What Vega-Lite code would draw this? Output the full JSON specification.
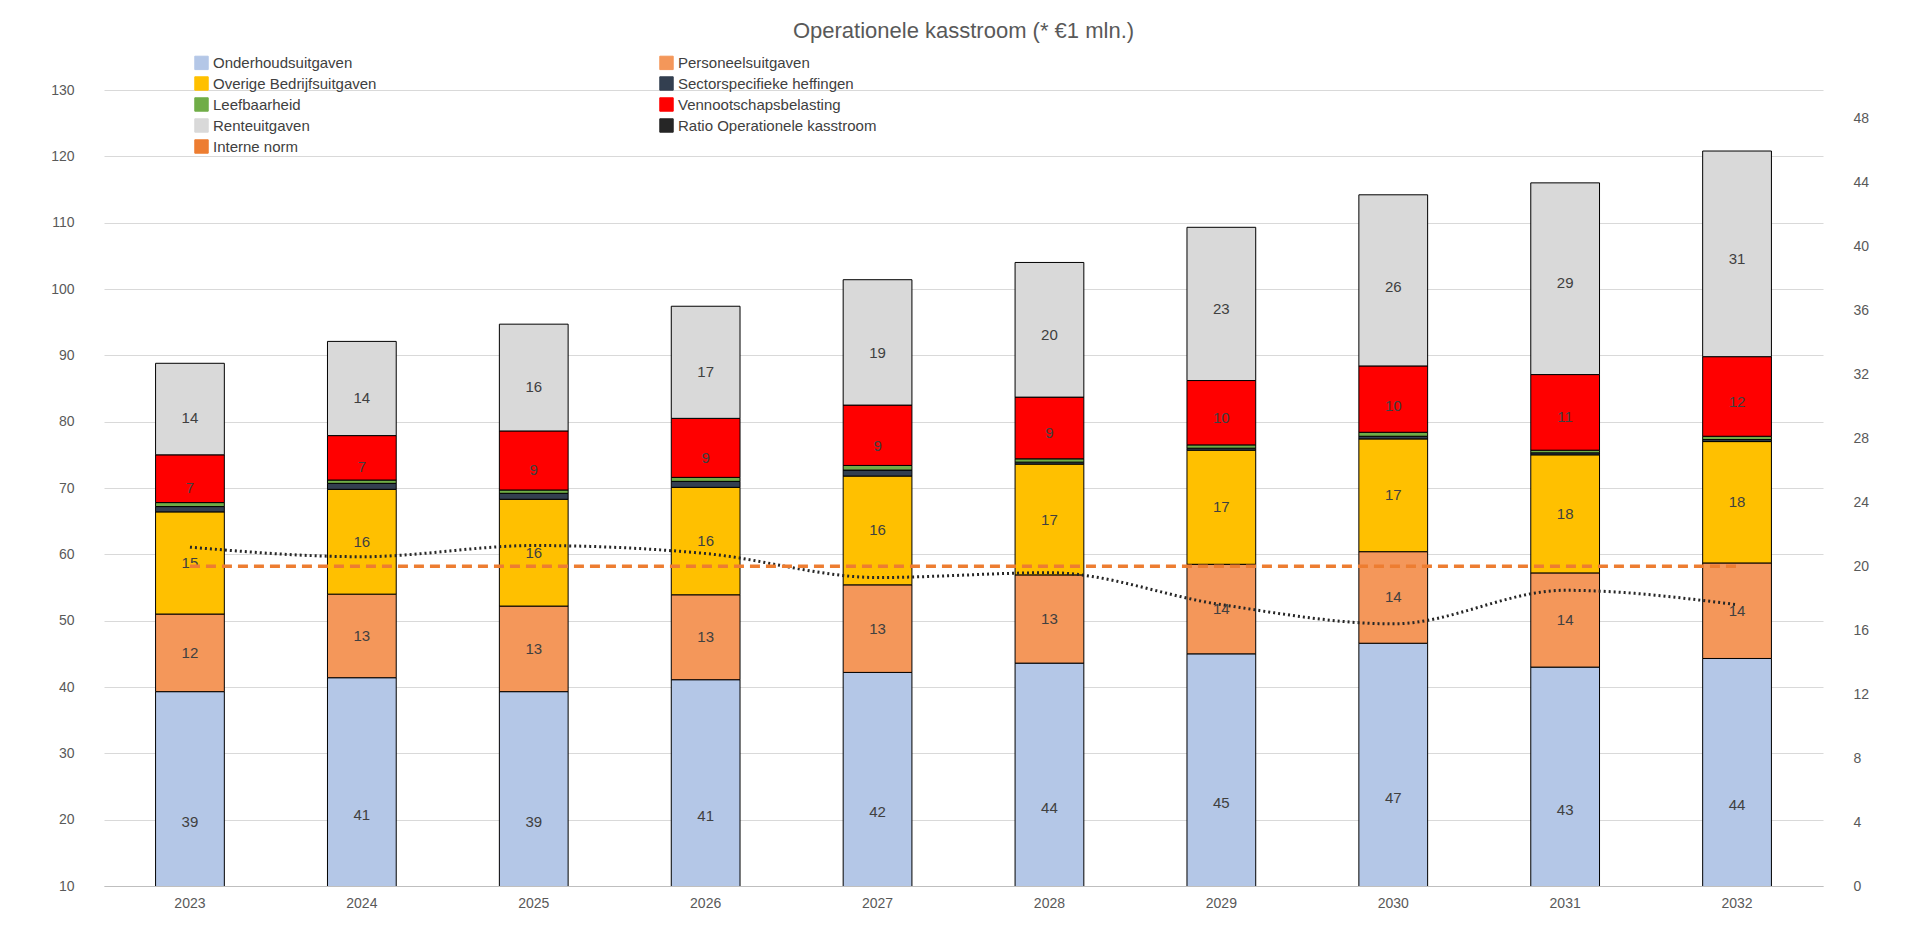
{
  "$schema": "https://vega.github.io/schema/vega-lite/v6.json",
  "width": 1919,
  "height": 950,
  "autosize": {"type": "fit", "contains": "padding"},
  "padding": {"left": 50, "right": 50, "top": 20, "bottom": 40},
  "title": {"text": "Operationele kasstroom (* €1 mln.)", "fontSize": 22, "font": "Liberation Sans", "fontWeight": "normal", "color": "#595959", "offset": 40},
  "config": {"view": {"stroke": null}, "font": "Liberation Sans", "axis": {"labelFontSize": 14, "labelColor": "#595959"}},
  "datasets": {
    "bars": [
      {"jaar": "2023", "post": "Onderhoudsuitgaven", "o": 1, "v": 39.3}, {"jaar": "2023", "post": "Personeelsuitgaven", "o": 2, "v": 11.7}, {"jaar": "2023", "post": "Overige Bedrijfsuitgaven", "o": 3, "v": 15.4}, {"jaar": "2023", "post": "Sectorspecifieke heffingen", "o": 4, "v": 0.8}, {"jaar": "2023", "post": " Leefbaarheid", "o": 5, "v": 0.6}, {"jaar": "2023", "post": "Vennootschapsbelasting", "o": 6, "v": 7.2}, {"jaar": "2023", "post": "Renteuitgaven", "o": 7, "v": 13.8},
      {"jaar": "2024", "post": "Onderhoudsuitgaven", "o": 1, "v": 41.4}, {"jaar": "2024", "post": "Personeelsuitgaven", "o": 2, "v": 12.6}, {"jaar": "2024", "post": "Overige Bedrijfsuitgaven", "o": 3, "v": 15.8}, {"jaar": "2024", "post": "Sectorspecifieke heffingen", "o": 4, "v": 0.9}, {"jaar": "2024", "post": " Leefbaarheid", "o": 5, "v": 0.5}, {"jaar": "2024", "post": "Vennootschapsbelasting", "o": 6, "v": 6.7}, {"jaar": "2024", "post": "Renteuitgaven", "o": 7, "v": 14.2},
      {"jaar": "2025", "post": "Onderhoudsuitgaven", "o": 1, "v": 39.3}, {"jaar": "2025", "post": "Personeelsuitgaven", "o": 2, "v": 12.9}, {"jaar": "2025", "post": "Overige Bedrijfsuitgaven", "o": 3, "v": 16.1}, {"jaar": "2025", "post": "Sectorspecifieke heffingen", "o": 4, "v": 0.9}, {"jaar": "2025", "post": " Leefbaarheid", "o": 5, "v": 0.5}, {"jaar": "2025", "post": "Vennootschapsbelasting", "o": 6, "v": 8.9}, {"jaar": "2025", "post": "Renteuitgaven", "o": 7, "v": 16.1},
      {"jaar": "2026", "post": "Onderhoudsuitgaven", "o": 1, "v": 41.1}, {"jaar": "2026", "post": "Personeelsuitgaven", "o": 2, "v": 12.8}, {"jaar": "2026", "post": "Overige Bedrijfsuitgaven", "o": 3, "v": 16.2}, {"jaar": "2026", "post": "Sectorspecifieke heffingen", "o": 4, "v": 0.9}, {"jaar": "2026", "post": " Leefbaarheid", "o": 5, "v": 0.6}, {"jaar": "2026", "post": "Vennootschapsbelasting", "o": 6, "v": 8.9}, {"jaar": "2026", "post": "Renteuitgaven", "o": 7, "v": 16.9},
      {"jaar": "2027", "post": "Onderhoudsuitgaven", "o": 1, "v": 42.2}, {"jaar": "2027", "post": "Personeelsuitgaven", "o": 2, "v": 13.2}, {"jaar": "2027", "post": "Overige Bedrijfsuitgaven", "o": 3, "v": 16.4}, {"jaar": "2027", "post": "Sectorspecifieke heffingen", "o": 4, "v": 0.9}, {"jaar": "2027", "post": " Leefbaarheid", "o": 5, "v": 0.7}, {"jaar": "2027", "post": "Vennootschapsbelasting", "o": 6, "v": 9.1}, {"jaar": "2027", "post": "Renteuitgaven", "o": 7, "v": 18.9},
      {"jaar": "2028", "post": "Onderhoudsuitgaven", "o": 1, "v": 43.6}, {"jaar": "2028", "post": "Personeelsuitgaven", "o": 2, "v": 13.3}, {"jaar": "2028", "post": "Overige Bedrijfsuitgaven", "o": 3, "v": 16.7}, {"jaar": "2028", "post": "Sectorspecifieke heffingen", "o": 4, "v": 0.3}, {"jaar": "2028", "post": " Leefbaarheid", "o": 5, "v": 0.5}, {"jaar": "2028", "post": "Vennootschapsbelasting", "o": 6, "v": 9.3}, {"jaar": "2028", "post": "Renteuitgaven", "o": 7, "v": 20.3},
      {"jaar": "2029", "post": "Onderhoudsuitgaven", "o": 1, "v": 45.0}, {"jaar": "2029", "post": "Personeelsuitgaven", "o": 2, "v": 13.5}, {"jaar": "2029", "post": "Overige Bedrijfsuitgaven", "o": 3, "v": 17.2}, {"jaar": "2029", "post": "Sectorspecifieke heffingen", "o": 4, "v": 0.3}, {"jaar": "2029", "post": " Leefbaarheid", "o": 5, "v": 0.5}, {"jaar": "2029", "post": "Vennootschapsbelasting", "o": 6, "v": 9.7}, {"jaar": "2029", "post": "Renteuitgaven", "o": 7, "v": 23.1},
      {"jaar": "2030", "post": "Onderhoudsuitgaven", "o": 1, "v": 46.6}, {"jaar": "2030", "post": "Personeelsuitgaven", "o": 2, "v": 13.8}, {"jaar": "2030", "post": "Overige Bedrijfsuitgaven", "o": 3, "v": 17.0}, {"jaar": "2030", "post": "Sectorspecifieke heffingen", "o": 4, "v": 0.4}, {"jaar": "2030", "post": " Leefbaarheid", "o": 5, "v": 0.6}, {"jaar": "2030", "post": "Vennootschapsbelasting", "o": 6, "v": 10.0}, {"jaar": "2030", "post": "Renteuitgaven", "o": 7, "v": 25.8},
      {"jaar": "2031", "post": "Onderhoudsuitgaven", "o": 1, "v": 43.0}, {"jaar": "2031", "post": "Personeelsuitgaven", "o": 2, "v": 14.2}, {"jaar": "2031", "post": "Overige Bedrijfsuitgaven", "o": 3, "v": 17.8}, {"jaar": "2031", "post": "Sectorspecifieke heffingen", "o": 4, "v": 0.3}, {"jaar": "2031", "post": " Leefbaarheid", "o": 5, "v": 0.4}, {"jaar": "2031", "post": "Vennootschapsbelasting", "o": 6, "v": 11.4}, {"jaar": "2031", "post": "Renteuitgaven", "o": 7, "v": 28.9},
      {"jaar": "2032", "post": "Onderhoudsuitgaven", "o": 1, "v": 44.3}, {"jaar": "2032", "post": "Personeelsuitgaven", "o": 2, "v": 14.4}, {"jaar": "2032", "post": "Overige Bedrijfsuitgaven", "o": 3, "v": 18.3}, {"jaar": "2032", "post": "Sectorspecifieke heffingen", "o": 4, "v": 0.3}, {"jaar": "2032", "post": " Leefbaarheid", "o": 5, "v": 0.5}, {"jaar": "2032", "post": "Vennootschapsbelasting", "o": 6, "v": 12.0}, {"jaar": "2032", "post": "Renteuitgaven", "o": 7, "v": 31.0}
    ],
    "ratio": [
      {"jaar": "2023", "r": 21.2}, {"jaar": "2024", "r": 20.6}, {"jaar": "2025", "r": 21.3}, {"jaar": "2026", "r": 20.8}, {"jaar": "2027", "r": 19.3},
      {"jaar": "2028", "r": 19.6}, {"jaar": "2029", "r": 17.6}, {"jaar": "2030", "r": 16.4}, {"jaar": "2031", "r": 18.5}, {"jaar": "2032", "r": 17.6}
    ],
    "norm": [{"jaar": "2023", "n": 20}, {"jaar": "2032", "n": 20}]
  },
  "encoding": {
    "x": {"field": "jaar", "type": "nominal", "title": null, "scale": {"paddingInner": 0.6, "paddingOuter": 0.3}, "axis": {"labelAngle": 0, "domainColor": "#bfbfbf", "ticks": false, "labelPadding": 10}}
  },
  "layer": [
    {
      "data": {"name": "bars"},
      "encoding": {
        "y": {"field": "v", "type": "quantitative", "stack": "zero", "scale": {"domain": [10, 130]}, "title": null,
          "axis": {"values": [10, 20, 30, 40, 50, 60, 70, 80, 90, 100, 110, 120, 130], "domain": false, "ticks": false, "gridColor": "#d9d9d9", "labelPadding": 30}}
      },
      "layer": [
        {
          "mark": {"type": "bar", "stroke": "black", "strokeWidth": 1, "clip": true},
          "encoding": {
            "color": {"field": "post", "type": "nominal",
              "scale": {
                "domain": ["Onderhoudsuitgaven", "Overige Bedrijfsuitgaven", " Leefbaarheid", "Renteuitgaven", "Interne norm", "Personeelsuitgaven", "Sectorspecifieke heffingen", "Vennootschapsbelasting", "Ratio Operationele kasstroom"],
                "range": ["#B4C7E7", "#FFC000", "#70AD47", "#D9D9D9", "#ED7D31", "#F4975A", "#333F50", "#FF0000", "#262626"]
              },
              "legend": {"title": null, "orient": "none", "legendX": 90, "legendY": -35, "columns": 2, "columnPadding": 280, "rowPadding": 2, "labelFontSize": 15, "labelColor": "#404040", "symbolType": "square", "symbolSize": 180, "symbolStrokeColor": "black", "symbolStrokeWidth": 1, "labelLimit": 400}
            },
            "order": {"field": "o"}
          }
        },
        {
          "transform": [{"filter": "datum.v >= 1"}],
          "mark": {"type": "text", "fontSize": 15, "color": "#404040"},
          "encoding": {
            "y": {"field": "v", "type": "quantitative", "stack": "zero", "bandPosition": 0.5},
            "text": {"field": "v", "type": "quantitative", "format": ".0f"},
            "order": {"field": "o"}
          }
        }
      ]
    },
    {
      "encoding": {
        "y": {"type": "quantitative", "scale": {"domain": [0, 49.8]}, "title": null,
          "axis": {"orient": "right", "values": [0, 4, 8, 12, 16, 20, 24, 28, 32, 36, 40, 44, 48], "domain": false, "ticks": false, "grid": false, "labelPadding": 30, "labelColor": "#595959"}}
      },
      "layer": [
        {
          "data": {"name": "ratio"},
          "mark": {"type": "line", "strokeDash": [2, 3], "strokeWidth": 3, "interpolate": "monotone"},
          "encoding": {"y": {"field": "r", "type": "quantitative"}, "color": {"datum": "Ratio Operationele kasstroom"}}
        },
        {
          "data": {"name": "norm"},
          "mark": {"type": "line", "strokeDash": [10, 6], "strokeWidth": 3.5},
          "encoding": {"y": {"field": "n", "type": "quantitative"}, "color": {"datum": "Interne norm"}}
        }
      ]
    }
  ],
  "resolve": {"scale": {"y": "independent"}}
}
